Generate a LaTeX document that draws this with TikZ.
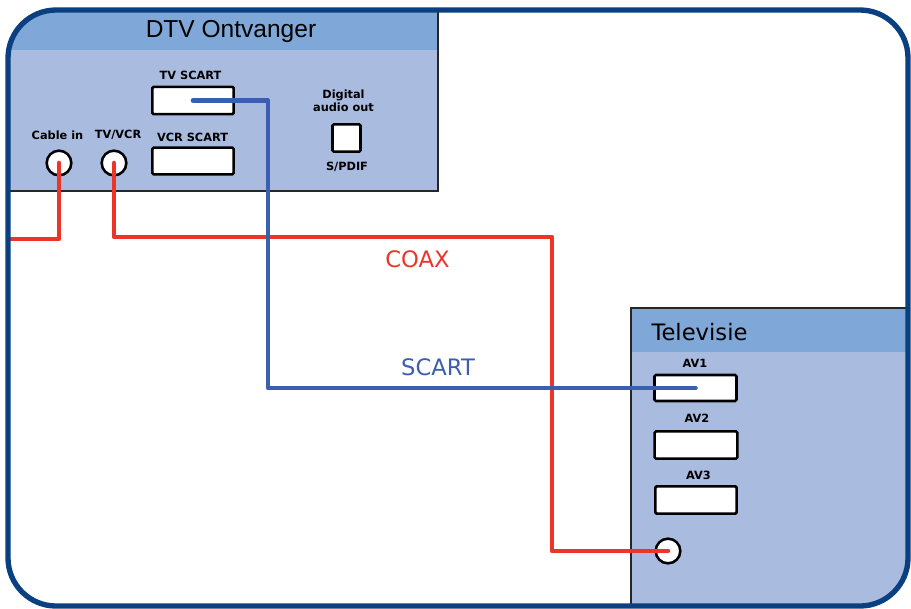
\documentclass[tikz,border=0pt]{standalone}
\usepackage{fontspec}
\setmainfont{DejaVu Sans}
\newfontfamily\arialf{Liberation Sans}
\definecolor{framec}{HTML}{0A4080}
\definecolor{bodyc}{HTML}{A9BBDF}
\definecolor{headc}{HTML}{7FA8D8}
\definecolor{redw}{HTML}{EE3429}
\definecolor{bluew}{HTML}{3A5EB0}
\tikzset{
  x=0.75pt,y=-0.75pt,
  port/.style={draw=black,fill=white,line width=1.9pt,rounded corners=1pt,inner sep=0pt,outer sep=0pt,anchor=center},
  coaxport/.style={port,circle,minimum size=18.5pt},
  lab/.style={font=\bfseries\fontsize{8.5}{10.5}\selectfont,text=black,inner sep=0pt,align=center,anchor=center},
  wirered/.style={draw=redw,line width=3.4pt,line cap=round,line join=round},
  wireblue/.style={draw=bluew,line width=3.4pt,line cap=round,line join=round},
  wirelab/.style={font=\fontsize{17}{20}\selectfont,inner sep=0pt,anchor=center},
  boxedge/.style={draw=black!85,line width=1.3pt}
}
\begin{document}
\begin{tikzpicture}
\useasboundingbox (0,0) rectangle (911,608);
\fill[white] (0,0) rectangle (911,608);
\begin{scope}
\clip[rounded corners=36pt] (8,10) rectangle (908,606);
% DTV box
\fill[bodyc] (0,0) rectangle (438,191);
\fill[headc] (0,0) rectangle (437,50);
\draw[boxedge] (0,191) -- (438,191) -- (438,0);
% Television box
\fill[bodyc] (631,308) rectangle (911,608);
\fill[headc] (632,309) rectangle (911,352);
\draw[boxedge] (631,608) -- (631,308) -- (911,308);
\end{scope}
\node[inner sep=0pt,font=\arialf\fontsize{18.4}{22}\selectfont] (dtvt) at (231,31) {DTV Ontvanger};
\node[inner sep=0pt,font=\fontsize{17}{20}\selectfont] (tvt) at (699.5,332) {Televisie};
% DTV ports
\node[port,minimum width=61pt,minimum height=20.5pt] (tvscart) at (193,100.5) {};
\node[port,minimum width=61pt,minimum height=20pt] (vcrscart) at (193,161) {};
\node[port,minimum width=21pt,minimum height=20.5pt] (spdif) at (346.5,138) {};
\node[coaxport] (cablein) at (59,163) {};
\node[coaxport] (tvvcr) at (114,163) {};
\node[lab] (l1) at (190.5,75.5) {TV SCART};
\node[lab] (l2) at (192.5,137) {VCR SCART};
\node[lab] (l3) at (57.5,135) {Cable in};
\node[lab] (l4) at (118,135) {TV/VCR};
\node[lab] (l5) at (343.5,101) {Digital\\[-0.5pt]audio out};
\node[lab] (l6) at (347,167) {S/PDIF};
% TV ports
\node[port,minimum width=61.5pt,minimum height=19.5pt] (av1) at (695.5,388) {};
\node[port,minimum width=62pt,minimum height=20.5pt] (av2) at (696,445) {};
\node[port,minimum width=61pt,minimum height=20.5pt] (av3) at (696,500) {};
\node[coaxport] (tvcoax) at (668,551) {};
\node[lab] (l7) at (695,363) {AV1};
\node[lab] (l8) at (697,418.5) {AV2};
\node[lab] (l9) at (698.5,475) {AV3};
% wires
\coordinate (cedge) at (8,239);
\coordinate (c1) at (59,239);
\coordinate (c2) at (114,237);
\coordinate (c3) at (552,237);
\coordinate (c4) at (552,551);
\coordinate (b1) at (268,100.5);
\coordinate (b2) at (268,388);
\path[wirered] (cablein.center) -- (c1) -- (cedge);
\path[wirered] (tvvcr.center) -- (c2) -- (c3) -- (c4) -- (tvcoax.center);
\path[wireblue] (tvscart.center) -- (b1) -- (b2) -- (av1.center);
\node[wirelab,text=redw] (coax) at (417.5,259) {COAX};
\node[wirelab,text=bluew] (scart) at (438,367) {SCART};
% frame
\draw[framec,line width=4pt,rounded corners=36pt] (8,10) rectangle (908,606);
\end{tikzpicture}
\end{document}
